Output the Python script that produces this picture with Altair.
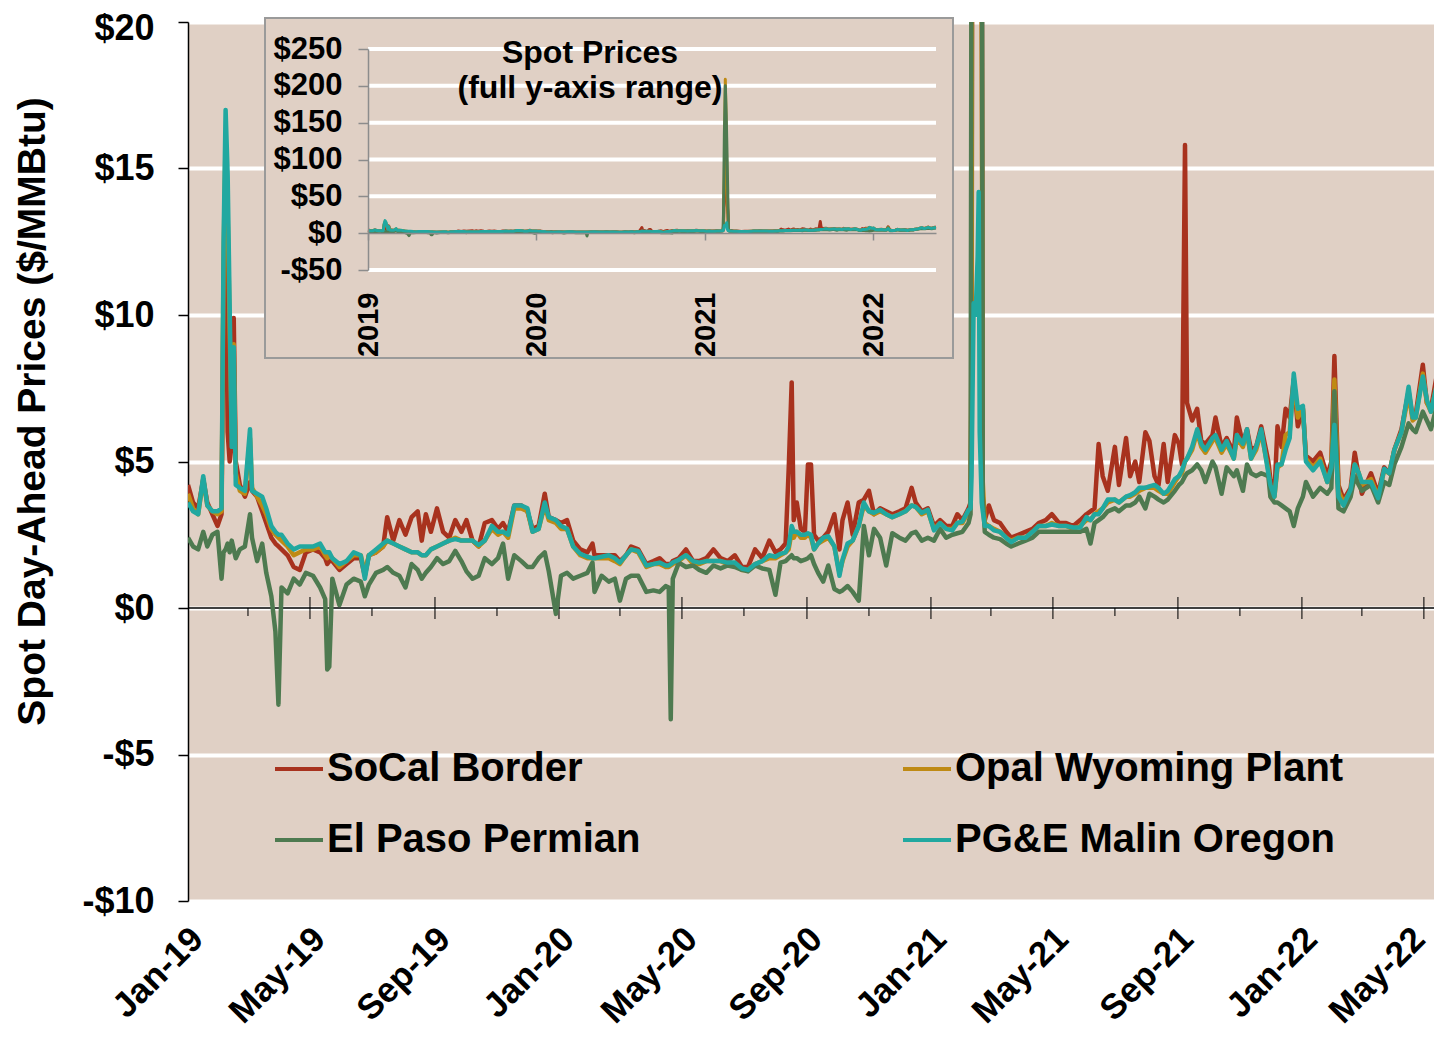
import altair as alt
import pandas as pd

SERIES = ["SoCal Border", "Opal Wyoming Plant", "El Paso Permian", "PG&E Malin Oregon"]
COLORS = ["#A8321E", "#BF8A14", "#4E7A50", "#21A8A0"]
BEIGE = "#E0D0C5"
FONT = "Liberation Sans"

DATES = [
    "2019-01-01", "2019-01-06", "2019-01-11", "2019-01-16", "2019-01-20", "2019-01-25", "2019-01-30",
    "2019-02-03", "2019-02-05", "2019-02-07", "2019-02-09", "2019-02-11", "2019-02-13", "2019-02-15", "2019-02-17", "2019-02-21", "2019-02-26",
    "2019-03-03", "2019-03-05", "2019-03-10", "2019-03-15", "2019-03-19", "2019-03-24", "2019-03-28", "2019-03-31",
    "2019-04-03", "2019-04-09", "2019-04-15", "2019-04-21", "2019-04-27",
    "2019-05-04", "2019-05-11", "2019-05-16", "2019-05-18", "2019-05-20", "2019-05-23", "2019-05-30",
    "2019-06-06", "2019-06-13", "2019-06-20", "2019-06-24", "2019-06-28",
    "2019-07-05", "2019-07-12", "2019-07-16", "2019-07-22", "2019-07-28",
    "2019-08-03", "2019-08-09", "2019-08-15", "2019-08-19", "2019-08-23", "2019-08-28",
    "2019-09-03", "2019-09-09", "2019-09-15", "2019-09-21", "2019-09-27",
    "2019-10-02", "2019-10-08", "2019-10-14", "2019-10-20", "2019-10-27",
    "2019-11-02", "2019-11-07", "2019-11-12", "2019-11-18", "2019-11-25",
    "2019-12-01", "2019-12-06", "2019-12-12", "2019-12-18", "2019-12-22", "2019-12-29",
    "2020-01-03", "2020-01-09", "2020-01-15", "2020-01-22", "2020-01-29",
    "2020-02-03", "2020-02-05", "2020-02-12", "2020-02-19", "2020-02-25",
    "2020-03-01", "2020-03-07", "2020-03-12", "2020-03-19", "2020-03-27",
    "2020-04-03", "2020-04-09", "2020-04-15", "2020-04-18", "2020-04-20", "2020-04-22", "2020-04-28",
    "2020-05-05", "2020-05-12", "2020-05-18", "2020-05-25",
    "2020-06-01", "2020-06-08", "2020-06-15", "2020-06-22", "2020-06-29",
    "2020-07-05", "2020-07-12", "2020-07-19", "2020-07-26",
    "2020-08-01", "2020-08-06", "2020-08-11", "2020-08-14", "2020-08-17", "2020-08-19", "2020-08-22", "2020-08-26", "2020-08-30",
    "2020-09-02", "2020-09-05", "2020-09-08", "2020-09-12", "2020-09-17", "2020-09-22", "2020-09-28",
    "2020-10-03", "2020-10-06", "2020-10-11", "2020-10-16", "2020-10-22", "2020-10-27",
    "2020-11-01", "2020-11-06", "2020-11-12", "2020-11-18", "2020-11-24",
    "2020-12-01", "2020-12-07", "2020-12-13", "2020-12-17", "2020-12-23", "2020-12-29",
    "2021-01-04", "2021-01-10", "2021-01-16", "2021-01-22", "2021-01-27",
    "2021-02-01", "2021-02-07", "2021-02-09", "2021-02-10", "2021-02-12", "2021-02-14", "2021-02-16", "2021-02-17", "2021-02-18", "2021-02-20", "2021-02-21", "2021-02-23", "2021-02-27",
    "2021-03-04", "2021-03-10", "2021-03-16", "2021-03-21", "2021-03-28",
    "2021-04-04", "2021-04-11", "2021-04-17", "2021-04-24", "2021-04-30",
    "2021-05-07", "2021-05-14", "2021-05-21", "2021-05-28",
    "2021-06-03", "2021-06-07", "2021-06-11", "2021-06-15", "2021-06-19", "2021-06-24",
    "2021-07-01", "2021-07-05", "2021-07-12", "2021-07-16", "2021-07-21", "2021-07-25", "2021-07-31",
    "2021-08-04", "2021-08-09", "2021-08-13", "2021-08-18", "2021-08-22", "2021-08-29",
    "2021-09-02", "2021-09-05", "2021-09-08", "2021-09-10", "2021-09-15", "2021-09-20", "2021-09-24", "2021-09-28",
    "2021-10-05", "2021-10-08", "2021-10-14", "2021-10-19", "2021-10-26", "2021-10-29",
    "2021-11-04", "2021-11-08", "2021-11-12", "2021-11-17", "2021-11-22", "2021-11-29",
    "2021-12-01", "2021-12-05", "2021-12-08", "2021-12-12", "2021-12-16", "2021-12-20", "2021-12-24", "2021-12-28",
    "2022-01-02", "2022-01-05", "2022-01-12", "2022-01-19", "2022-01-26", "2022-01-30",
    "2022-02-02", "2022-02-06", "2022-02-11", "2022-02-18", "2022-02-22", "2022-02-26",
    "2022-03-01", "2022-03-10", "2022-03-17", "2022-03-23", "2022-03-28",
    "2022-04-02", "2022-04-09", "2022-04-16", "2022-04-20", "2022-04-23", "2022-04-30",
    "2022-05-04", "2022-05-08", "2022-05-13", "2022-05-17",
]

SOCAL = [
    4.2, 3.6, 3.4, 4.4, 3.6, 3.2, 2.8,
    3.2, 11.0, 14.0, 6.0, 5.0, 5.6, 9.9, 5.0, 4.2, 3.8,
    4.3, 4.0, 3.8, 3.3, 2.9, 2.4, 2.2, 2.1,
    2.0, 1.8, 1.4, 1.3, 1.9,
    2.0, 1.9, 1.7, 1.5, 1.6, 1.6, 1.3,
    1.5, 1.7, 1.7, 1.1, 1.8,
    1.9, 2.1, 3.1, 2.3, 3.0,
    2.5, 3.1, 3.3, 2.3, 3.2, 2.6,
    3.4, 2.6, 2.4, 3.0, 2.6,
    3.0, 2.3, 2.1, 2.9, 3.0,
    2.7, 2.9, 2.6, 3.5, 3.5,
    3.3, 2.7, 2.8, 3.9, 3.1, 3.0,
    2.9, 3.0, 2.3, 2.0, 1.9,
    2.2, 1.8, 1.8, 1.8, 1.8,
    1.6, 1.8, 2.1, 2.0, 1.5,
    1.6, 1.7, 1.5, 1.5, 1.5, 1.6, 1.7,
    2.0, 1.6, 1.6, 1.7,
    2.0, 1.7, 1.6, 1.8, 1.4,
    1.4, 2.0, 1.7, 2.3,
    1.9, 2.0, 2.2, 4.7, 7.7, 3.0, 3.6, 2.7, 2.6,
    4.9, 4.9, 2.5, 2.3, 2.4, 2.6, 3.2,
    2.0, 3.0, 3.6, 2.5, 3.6, 3.7,
    4.0, 3.2, 3.4, 3.3, 3.2,
    3.3, 3.4, 4.1, 3.6, 3.3, 3.4,
    2.8, 3.0, 2.8, 2.8, 3.2,
    3.0, 3.4, 3.6, 8.0, 60.0, 150.0, 100.0, 60.0, 40.0, 25.0, 3.6, 3.0, 3.5,
    3.0, 2.9, 2.6, 2.4, 2.5,
    2.6, 2.7, 2.9, 3.0, 3.2,
    2.9, 2.9, 2.8, 3.0,
    3.2, 3.3, 3.4, 5.6, 4.5, 4.0,
    5.5, 4.2, 5.8, 4.5, 5.0, 4.3, 6.0,
    5.7, 4.5, 4.2, 5.6, 4.3, 5.9,
    5.6, 4.9, 15.8, 7.0, 6.4, 6.8, 5.7, 5.6,
    5.9, 6.5, 5.5, 5.8, 5.3, 6.5,
    5.6, 6.1, 5.4, 5.5, 6.2, 5.0,
    4.4, 3.9, 6.2, 5.5, 6.8, 6.5, 7.8, 6.2,
    6.8, 5.2, 5.0, 5.3, 4.5, 5.0,
    8.6, 4.2, 3.7, 4.1, 5.3, 4.5,
    3.9, 4.6, 3.9, 4.8, 4.6,
    5.4, 6.1, 7.4, 6.5, 6.6, 8.3,
    7.0, 6.8, 7.8, 8.5,
]

OPAL = [
    3.9, 3.4, 3.2, 4.4, 3.5, 3.3, 3.2,
    3.3, 12.0, 16.0, 13.5, 9.5, 6.0, 9.0, 4.6, 4.0, 3.9,
    5.8, 4.1, 3.8, 3.5, 3.2, 2.7, 2.5, 2.4,
    2.3, 2.1, 1.8, 1.9, 2.0,
    2.0, 2.1, 1.8, 1.7, 1.8, 1.7, 1.4,
    1.6, 1.8, 1.8, 1.2, 1.8,
    1.9, 2.1, 2.3, 2.2, 2.1,
    2.0, 1.9, 1.9, 1.8, 1.8, 2.0,
    2.1, 2.2, 2.3, 2.4, 2.3,
    2.3, 2.3, 2.1, 2.3, 2.7,
    2.5, 2.6, 2.4, 3.4, 3.4,
    3.3, 2.6, 2.7, 3.5, 3.0, 2.9,
    2.7, 2.7, 2.1, 1.8, 1.7,
    1.7, 1.7, 1.7, 1.7, 1.6,
    1.5, 1.8, 2.0, 1.9, 1.4,
    1.5, 1.5, 1.4, 1.4, 1.45, 1.5, 1.6,
    1.8, 1.5, 1.5, 1.6,
    1.6, 1.6, 1.5, 1.5, 1.3,
    1.3, 1.5, 1.6, 1.7,
    1.7, 1.8, 1.9, 2.0, 2.6, 2.4, 2.6, 2.4, 2.4,
    2.5, 2.4, 2.0, 2.2, 2.3, 2.4, 2.1,
    1.2, 1.6, 2.1, 2.3, 2.8, 3.5,
    3.3, 3.2, 3.3, 3.2, 3.1,
    3.2, 3.3, 3.5, 3.45, 3.2, 3.3,
    2.7, 2.9, 2.7, 2.7, 2.9,
    2.9, 3.3, 3.4, 10.0, 80.0, 209.0, 140.0, 90.0, 60.0, 20.0, 4.3, 2.9, 2.8,
    2.7, 2.6, 2.4, 2.3, 2.4,
    2.4, 2.6, 2.8, 2.8, 2.9,
    2.8, 2.8, 2.7, 2.8,
    3.0, 3.0, 3.2, 3.3, 3.4, 3.6,
    3.7, 3.6, 3.8, 3.8, 3.9, 4.0, 4.1,
    4.1, 4.1, 4.0, 3.9, 3.9, 4.3,
    4.5, 4.6, 5.0, 5.1, 5.4, 6.0, 5.5, 5.3,
    5.7, 5.8, 5.3, 5.6, 5.1, 5.8,
    5.5, 6.0, 5.1, 5.4, 6.0, 4.7,
    4.1, 3.8, 4.8, 4.9, 5.9, 6.0, 7.8, 6.5,
    6.8, 5.1, 4.8, 5.1, 4.3, 4.8,
    7.8, 4.0, 3.6, 4.0, 4.9, 4.6,
    4.2, 4.4, 3.8, 4.7, 4.6,
    5.4, 6.0, 7.3, 6.4, 6.5, 8.0,
    7.0, 6.7, 7.5, 7.6,
]

PERMIAN = [
    2.4, 2.1, 2.0, 2.6, 2.1, 2.5, 2.6,
    1.0, 1.9, 2.0, 2.2, 1.9, 2.3, 2.0, 1.7, 2.0, 2.1,
    3.2, 2.4, 1.6, 2.2, 1.2, 0.4, -0.8, -3.3,
    0.7, 0.5, 1.0, 0.8, 1.2,
    1.1, 0.7, 0.3, -2.1, -2.0, 1.0, 0.1,
    0.8, 1.0, 0.9, 0.4, 0.8,
    1.2, 1.3, 1.4, 1.2, 1.1,
    0.7, 1.5, 1.3, 1.0, 1.2, 1.4,
    1.7, 1.5, 1.6, 1.95, 1.6,
    1.25, 1.0, 1.1, 1.7, 1.5,
    1.7, 2.2, 1.0, 1.8, 1.6,
    1.4, 1.4, 1.7, 1.9, 1.25, -0.2,
    1.1, 1.2, 1.0, 1.1, 1.2,
    1.55, 0.55, 1.1, 0.9, 1.0,
    0.25, 1.0, 1.1, 1.1, 0.55,
    0.6, 0.55, 0.75, 0.7, -3.8, 1.0, 1.55,
    1.4, 1.45, 1.3, 1.2,
    1.45, 1.35, 1.45, 1.4, 1.3,
    1.25, 1.45, 1.35, 1.3,
    0.45, 1.55, 1.6, 1.7, 1.8, 1.7, 1.7, 1.6, 1.65,
    1.7, 1.8, 1.5, 1.2, 0.9, 1.45, 0.65,
    0.55, 0.6, 0.75, 0.55, 0.25, 2.8,
    1.8, 2.7, 2.4, 1.45, 2.55,
    2.4, 2.3, 2.55, 2.6, 2.3, 2.4,
    2.3, 2.7, 2.4, 2.5, 2.55,
    2.6, 2.9, 3.2, 25.0, 136.0, 200.0, 160.0, 130.0, 100.0, 30.0, 3.8, 2.6, 2.5,
    2.4, 2.35, 2.2, 2.1, 2.2,
    2.3, 2.4, 2.6, 2.6, 2.6,
    2.6, 2.6, 2.6, 2.6,
    2.7, 2.2, 2.9, 3.0, 3.1, 3.3,
    3.4, 3.3, 3.5, 3.5, 3.6, 3.8, 3.4,
    3.9, 3.8, 3.7, 3.6, 3.7, 4.0,
    4.2, 4.3, 4.5, 4.6, 4.7, 4.9, 4.7, 4.3,
    5.0, 4.8, 3.9, 4.8, 4.5, 4.7,
    4.0, 4.9, 4.6, 4.5, 4.6, 4.5,
    3.8, 3.6, 3.6, 3.5, 3.4, 3.3, 2.8, 3.4,
    3.8, 4.3, 3.8, 4.1, 3.9, 4.1,
    7.4, 3.4, 3.3, 3.8, 4.5, 4.2,
    4.0, 4.2, 3.6, 4.3, 4.2,
    4.9, 5.5, 6.3, 6.1, 6.0, 6.7,
    6.4, 6.1, 6.8, 7.0,
]

MALIN = [
    3.6, 3.3, 3.2, 4.5, 3.5, 3.3, 3.3,
    3.4, 12.5, 17.0, 14.8, 10.3, 5.5, 8.9, 4.2, 4.1, 4.0,
    6.1, 4.0, 3.9, 3.8, 3.4, 2.8, 2.6, 2.5,
    2.5, 2.2, 2.0, 2.1, 2.1,
    2.1, 2.2, 1.9, 1.9, 1.9, 1.7, 1.5,
    1.6, 1.9, 1.8, 1.0, 1.8,
    2.0, 2.2, 2.3, 2.2, 2.1,
    2.0, 1.9, 1.9, 1.8, 1.8, 2.0,
    2.1, 2.2, 2.3, 2.35, 2.3,
    2.3, 2.3, 2.15, 2.3, 2.8,
    2.6, 2.6, 2.5, 3.5, 3.5,
    3.4, 2.6, 2.7, 3.6, 3.1, 3.0,
    2.8, 2.7, 2.1, 1.85, 1.75,
    1.7, 1.7, 1.75, 1.8, 1.7,
    1.55, 1.8, 2.0, 1.95, 1.45,
    1.5, 1.55, 1.45, 1.45, 1.5, 1.55, 1.65,
    1.8, 1.6, 1.55, 1.6,
    1.6, 1.6, 1.55, 1.55, 1.35,
    1.3, 1.5, 1.6, 1.8,
    1.75, 1.85, 1.9, 2.1, 2.8, 2.6, 2.6, 2.5, 2.5,
    2.55, 2.5, 2.0, 2.2, 2.4, 2.45, 2.1,
    1.1, 1.65, 2.2, 2.3, 2.8, 3.6,
    3.3, 3.25, 3.35, 3.2, 3.1,
    3.2, 3.3, 3.5, 3.45, 3.25, 3.35,
    2.65, 2.9, 2.7, 2.65, 2.9,
    2.95, 3.35, 3.4, 4.5, 10.4, 10.0, 12.0, 14.2, 6.0, 3.6, 3.3, 2.8, 2.8,
    2.65, 2.6, 2.4, 2.25, 2.4,
    2.4, 2.6, 2.8, 2.8, 2.85,
    2.8, 2.8, 2.75, 2.75,
    3.1, 3.0, 3.2, 3.2, 3.4, 3.7,
    3.7, 3.6, 3.8, 3.85, 3.95, 4.1, 4.1,
    4.15, 4.2, 4.1, 3.9, 4.0, 4.4,
    4.5, 4.7, 5.0, 5.1, 5.5, 6.1, 5.6, 5.4,
    5.8, 5.9, 5.4, 5.7, 5.1, 5.9,
    5.6, 6.1, 5.1, 5.5, 6.1, 4.6,
    4.2, 3.8, 4.9, 4.9, 5.4, 5.8, 8.0, 6.8,
    6.9, 5.0, 4.7, 5.0, 4.3, 4.8,
    6.25, 3.8, 3.5, 4.05, 4.9, 4.6,
    4.3, 4.3, 3.75, 4.75, 4.6,
    5.4, 6.0, 7.55, 6.5, 6.5, 7.9,
    7.1, 6.7, 7.5, 7.5,
]

MAJOR_TICKS = ["2019-01-01", "2019-05-01", "2019-09-01", "2020-01-01", "2020-05-01", "2020-09-01",
               "2021-01-01", "2021-05-01", "2021-09-01", "2022-01-01", "2022-05-01"]
MINOR_TICKS = ["2019-03-01", "2019-07-01", "2019-11-01", "2020-03-01", "2020-07-01", "2020-11-01",
               "2021-03-01", "2021-07-01", "2021-11-01", "2022-03-01"]
MAIN_Y_TICKS = [-10, -5, 0, 5, 10, 15, 20]
INSET_Y_TICKS = [-50, 0, 50, 100, 150, 200, 250]
INSET_GRID = [-50, 50, 100, 150, 200, 250]
INSET_YEARS = ["2019-01-01", "2020-01-01", "2021-01-01", "2022-01-01"]
START, MAIN_END, INSET_END = "2019-01-01", "2022-05-11", "2022-05-17"

for lst in (SOCAL, OPAL, PERMIAN, MALIN):
    assert len(lst) == len(DATES), (len(lst), len(DATES))


def dt(s):
    y, m, d = (int(p) for p in s.split("-"))
    return alt.DateTime(year=y, month=m, date=d, utc=True)


frames = []
for name, vals in zip(SERIES, (SOCAL, OPAL, PERMIAN, MALIN)):
    frames.append(pd.DataFrame({"date": DATES, "value": vals, "series": name}))
df = pd.concat(frames, ignore_index=True)

money = "datum.value < 0 ? '-$' + abs(datum.value) : '$' + datum.value"

# ---------------- main panel ----------------
x_axis_main = alt.Axis(
    orient="bottom", values=[dt(s) for s in MAJOR_TICKS],
    labelExpr="utcFormat(datum.value, '%b-%y')",
    labelAngle=-45, labelAlign="right", labelBaseline="middle", labelFont=FONT,
    labelFontSize=35, labelFontWeight="bold", labelColor="black", labelPadding=32,
    labelOffset={"condition": {"test": "datum.value > 1650000000000", "value": -5}, "value": 9},
    domain=False, ticks=False, tickSize=0, grid=False, title=None,
    labelOverlap=False, labelBound=False, labelFlush=False, labelLimit=400,
)
y_axis_main = alt.Axis(
    orient="left", values=MAIN_Y_TICKS, labelExpr=money, labelFont=FONT, labelFontSize=36,
    labelFontWeight="bold", labelColor="black", labelPadding=24, tickSize=10,
    labelOffset={"condition": {"test": "datum.value == 20", "value": 6}, "value": 0},
    tickColor="black", tickWidth=1.5, domainColor="black", domainWidth=1.5,
    grid=True, gridColor="white", gridWidth=4,
    title="Spot Day-Ahead Prices ($/MMBtu)", titleFont=FONT, titleFontSize=39,
    titleFontWeight="bold", titleColor="black", titleX=-156, titleY=389,
    titleAngle=270, titleBaseline="middle", titleAlign="center",
)
x_main = alt.X("date:T", scale=alt.Scale(type="utc", domain=[dt(START), dt(MAIN_END)], nice=False),
               axis=x_axis_main)
y_main = alt.Y("value:Q", scale=alt.Scale(domain=[-10, 20], nice=False, zero=False),
               axis=y_axis_main)

legend = alt.Legend(
    title=None, orient="none", legendX=85, legendY=721, columns=2, direction="horizontal",
    symbolType="stroke", symbolSize=2304, symbolStrokeWidth=4, labelFont=FONT,
    labelFontSize=40, labelFontWeight="bold", labelColor="black", labelLimit=900,
    labelOffset=2, columnPadding=254, rowPadding=25, padding=0,
)
color = alt.Color("series:N", scale=alt.Scale(domain=SERIES, range=COLORS), legend=legend)

zero_line = alt.Chart(pd.DataFrame({"v": [0]})).mark_rule(color="black", strokeWidth=1.5).encode(
    y=alt.Y("v:Q", scale=alt.Scale(domain=[-10, 20], nice=False, zero=False), axis=y_axis_main)
)
major = alt.Chart(pd.DataFrame({"date": MAJOR_TICKS[1:]})).mark_tick(
    orient="vertical", color="black", size=22, thickness=1.5
).encode(x=x_main, y=alt.datum(0))
minor = alt.Chart(pd.DataFrame({"date": MINOR_TICKS})).mark_tick(
    orient="vertical", color="black", size=8, thickness=1.5, yOffset=4
).encode(x=x_main, y=alt.datum(0))

main_lines = [
    alt.Chart(df).transform_filter(alt.datum.series == name)
    .mark_line(strokeWidth=4.5, clip=True, strokeJoin="round")
    .encode(x=x_main, y=y_main, color=color)
    for name in SERIES
]
main = alt.layer(zero_line, major, minor, *main_lines)

# ---------------- inset panel ----------------
x_axis_in = alt.Axis(
    orient="bottom", offset=-668, values=[dt(s) for s in INSET_YEARS],
    labelExpr="utcFormat(datum.value, '%Y')", labelAngle=-90, labelAlign="right",
    labelBaseline="middle", labelFont=FONT, labelFontSize=29, labelFontWeight="bold",
    labelColor="black", labelPadding=52, tickSize=7, tickColor="#8C8C8C", tickWidth=1.5,
    domainColor="#8C8C8C", domainWidth=1.5, grid=False, title=None, zindex=1,
    labelOverlap=False, labelBound=False, labelFlush=False,
)
y_axis_in = alt.Axis(
    orient="left", offset=-180, values=INSET_Y_TICKS, labelExpr=money, labelFont=FONT,
    labelFontSize=31, labelFontWeight="bold", labelColor="black", labelPadding=16,
    tickSize=10, tickColor="#8C8C8C", tickWidth=1.5, domainColor="#8C8C8C",
    domainWidth=1.5, grid=False, title=None, zindex=1,
)
x_in = alt.X("date:T", scale=alt.Scale(type="utc", domain=[dt(START), dt(INSET_END)],
                                        range=[180, 748], nice=False), axis=x_axis_in)
y_in = alt.Y("value:Q", scale=alt.Scale(domain=[-50, 250], range=[248, 27], nice=False,
                                         zero=False), axis=y_axis_in)

frame = alt.Chart(pd.DataFrame({"a": [0]})).mark_rect(
    fill=BEIGE, stroke="#9A9A9A", strokeWidth=2
).encode(x=alt.value(77), x2=alt.value(765), y=alt.value(-4), y2=alt.value(336))

grid_df = pd.DataFrame({"value": INSET_GRID, "date": START, "end": INSET_END})
inset_grid = alt.Chart(grid_df).mark_rule(color="white", strokeWidth=4).encode(
    x=x_in, x2="end:T", y=y_in
)
inset_title = alt.Chart(pd.DataFrame({"a": [0]})).mark_text(
    text="Spot Prices\n(full y-axis range)", lineBreak="\n", font=FONT, fontSize=32,
    fontWeight="bold", color="black", align="center", baseline="alphabetic", lineHeight=35
).encode(x=alt.value(402), y=alt.value(41))

inset_lines = [
    alt.Chart(df).transform_filter(alt.datum.series == name)
    .mark_line(strokeWidth=3, strokeJoin="round")
    .encode(x=x_in, y=y_in, color=color)
    for name in SERIES
]
inset = alt.layer(frame, inset_grid, inset_title, *inset_lines)

chart = (
    alt.layer(main, inset)
    .resolve_scale(x="independent", y="independent")
    .properties(
        width=1246, height=879,
        autosize=alt.AutoSizeParams(type="none"),
        padding={"left": 180, "top": 14, "right": 0, "bottom": 133},
    )
    .configure_view(fill=BEIGE, strokeWidth=0)
)

chart.save("out.html", embed_options={"renderer": "svg", "actions": False})
